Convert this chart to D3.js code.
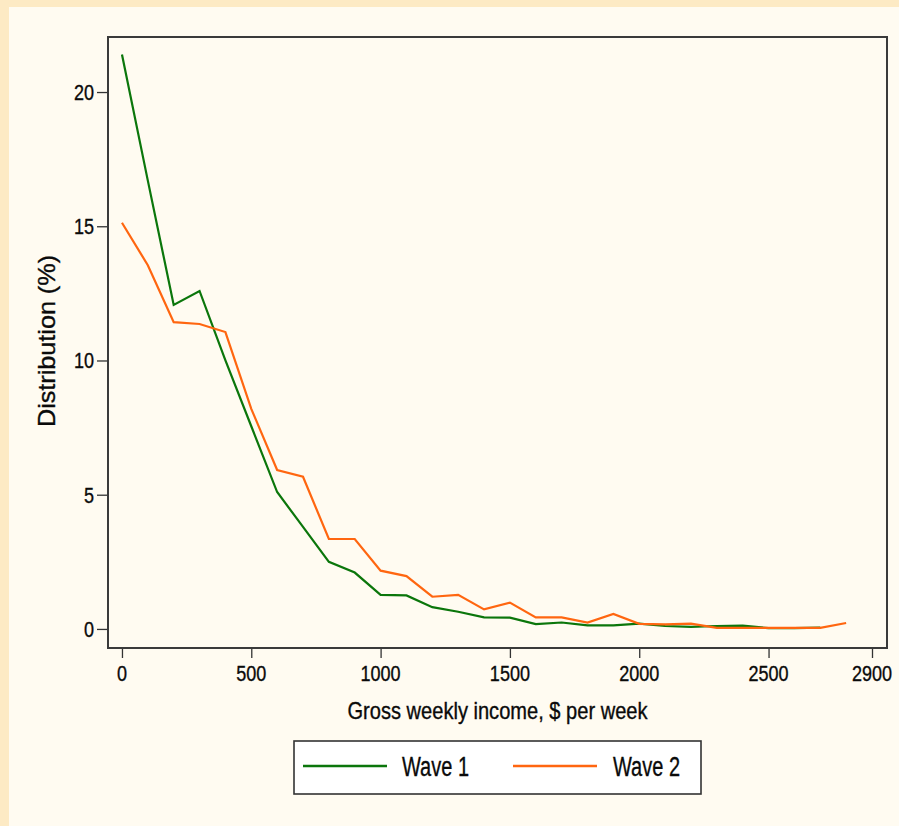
<!DOCTYPE html>
<html>
<head>
<meta charset="utf-8">
<script src="https://cdn.jsdelivr.net/npm/d3@7"></script>
<style>
    html, body { margin: 0; padding: 0; background: #fffbf1; }
    svg { display: block; font-family: "Liberation Sans", Arial, sans-serif; }
    svg text { fill: #0a0a0a; stroke: #0a0a0a; stroke-width: 0.35px; }
</style>
</head>
<body>
<div id="chart"></div>
<script>
// Income bands ($ per week) and distribution (%) for each wave
const incomeWave1 = [0, 100, 200, 300, 400, 500, 600, 700, 800, 900, 1000, 1100, 1200, 1300,
    1400, 1500, 1600, 1700, 1800, 1900, 2000, 2100, 2200, 2300, 2400, 2500, 2600, 2700];
const wave1 = [21.4, 16.7, 12.07, 12.59, 10.0, 7.55, 5.1, 3.8, 2.5, 2.1, 1.27, 1.25, 0.81, 0.64,
    0.43, 0.42, 0.18, 0.24, 0.13, 0.13, 0.2, 0.11, 0.08, 0.11, 0.12, 0.03, 0.03, 0.05];

const incomeWave2 = [0, 100, 200, 300, 400, 500, 600, 700, 800, 900, 1000, 1100, 1200, 1300,
    1400, 1500, 1600, 1700, 1800, 1900, 2000, 2100, 2200, 2300, 2400, 2500, 2600, 2700, 2800];
const wave2 = [15.13, 13.55, 11.43, 11.36, 11.06, 8.2, 5.92, 5.67, 3.35, 3.35, 2.17, 1.97, 1.2, 1.27,
    0.73, 0.98, 0.43, 0.43, 0.24, 0.56, 0.19, 0.17, 0.2, 0.04, 0.04, 0.04, 0.04, 0.04, 0.22];

const xTicks = [0, 500, 1000, 1500, 2000, 2500, 2900];
const yTicks = [0, 5, 10, 15, 20];
const seriesNames = ['Wave 1', 'Wave 2'];
const seriesColors = ['#0b760b', '#ff6610'];

const width = 899, height = 826;
const frame = { left: 108, right: 887, top: 37, bottom: 648 };

const svg = d3.select('#chart')
    .append('svg')
    .attr('width', width)
    .attr('height', height);

// Background with the tan band along top and left
svg.append('rect').attr('width', width).attr('height', height).attr('fill', '#fdeac4');
svg.append('rect').attr('x', 9).attr('y', 7)
    .attr('width', width - 9).attr('height', height - 7)
    .attr('fill', '#fffbf1');

const x = d3.scaleLinear().domain([-54, 2958]).range([frame.left, frame.right]);
const y = d3.scaleLinear().domain([-0.71, 22.05]).range([frame.bottom, frame.top]);

// Narrow-looking text: Liberation Sans squeezed horizontally
function narrowText(g, tx, ty, str, size, anchor, sx) {
    return g.append('text')
        .attr('transform', `translate(${tx},${ty}) scale(${sx},1)`)
        .attr('text-anchor', anchor)
        .attr('font-size', size)
        .text(str);
}

// Y axis
const yAxis = svg.append('g')
    .attr('transform', `translate(${frame.left},0)`)
    .call(d3.axisLeft(y).tickValues(yTicks).tickSize(11).tickFormat(''));
yAxis.select('.domain').remove();
yAxis.selectAll('.tick line').attr('stroke', '#333').attr('stroke-width', 1.3);
yTicks.forEach(v => narrowText(svg, frame.left - 14, y(v) + 7.8, d3.format('d')(v), 22, 'end', 0.82));

// X axis
const xAxis = svg.append('g')
    .attr('transform', `translate(0,${frame.bottom})`)
    .call(d3.axisBottom(x).tickValues(xTicks).tickSize(10).tickFormat(''));
xAxis.select('.domain').remove();
xAxis.selectAll('.tick line').attr('stroke', '#333').attr('stroke-width', 1.3);
xTicks.forEach(v => narrowText(svg, x(v), 681, d3.format('d')(v), 22, 'middle', 0.82));

// Axis titles
svg.append('text')
    .attr('x', (frame.left + frame.right) / 2)
    .attr('y', 719)
    .attr('text-anchor', 'middle')
    .attr('font-size', 24)
    .attr('textLength', 300)
    .attr('lengthAdjust', 'spacingAndGlyphs')
    .text('Gross weekly income, $ per week');

svg.append('text')
    .attr('transform', 'translate(55,341) rotate(-90)')
    .attr('text-anchor', 'middle')
    .attr('font-size', 24)
    .attr('textLength', 172)
    .attr('lengthAdjust', 'spacingAndGlyphs')
    .text('Distribution (%)');

// Lines
const line = d3.line()
    .x(d => x(d[0]))
    .y(d => y(d[1]));

const plot = svg.append('g');
[[incomeWave1, wave1], [incomeWave2, wave2]].forEach(([xs, ys], i) => {
    plot.append('path')
        .datum(d3.zip(xs, ys))
        .attr('d', line)
        .attr('fill', 'none')
        .attr('stroke', seriesColors[i])
        .attr('stroke-width', 2.2)
        .attr('stroke-linejoin', 'miter');
});

// Plot frame
svg.append('rect')
    .attr('x', frame.left).attr('y', frame.top)
    .attr('width', frame.right - frame.left)
    .attr('height', frame.bottom - frame.top)
    .attr('fill', 'none')
    .attr('stroke', '#3a3a3a')
    .attr('stroke-width', 2);

// Legend
const legend = svg.append('g');
legend.append('rect')
    .attr('x', 294).attr('y', 741)
    .attr('width', 407).attr('height', 53)
    .attr('fill', '#ffffff')
    .attr('stroke', '#333')
    .attr('stroke-width', 1.6);

const legendItems = [
    { x1: 303, x2: 387, tx: 402 },
    { x1: 513, x2: 597, tx: 613 }
];
legendItems.forEach((d, i) => {
    legend.append('line')
        .attr('x1', d.x1).attr('x2', d.x2)
        .attr('y1', 766).attr('y2', 766)
        .attr('stroke', seriesColors[i])
        .attr('stroke-width', 2.6);
    legend.append('text')
        .attr('x', d.tx).attr('y', 776)
        .attr('font-size', 27)
        .attr('textLength', 67)
        .attr('lengthAdjust', 'spacingAndGlyphs')
        .text(seriesNames[i]);
});
</script>
</body>
</html>
